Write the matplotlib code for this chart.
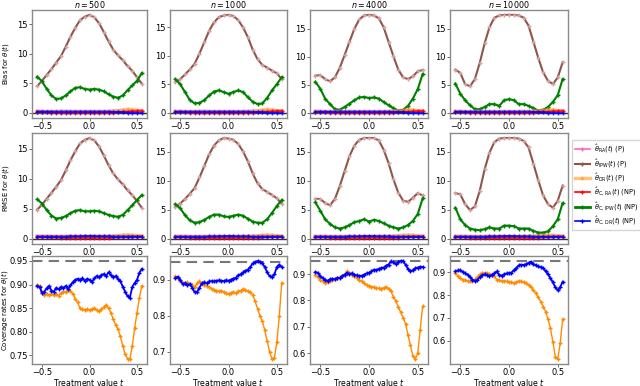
import matplotlib
matplotlib.use("Agg")
import matplotlib.pyplot as plt
from matplotlib.lines import Line2D

# sample sizes (one column each)
n_values = [500, 1000, 4000, 10000]

# treatment grid for bias / rmse rows
t_grid = [-0.55, -0.5, -0.45, -0.4, -0.35, -0.3, -0.25, -0.2, -0.15, -0.1, -0.05, 0.0,
          0.05, 0.1, 0.15, 0.2, 0.25, 0.3, 0.35, 0.4, 0.45, 0.5, 0.55]

# finer grid for coverage row
t_cov = [-0.55, -0.525, -0.5, -0.475, -0.45, -0.425, -0.4, -0.375, -0.35, -0.325, -0.3,
         -0.275, -0.25, -0.225, -0.2, -0.175, -0.15, -0.125, -0.1, -0.075, -0.05, -0.025,
         0.0, 0.025, 0.05, 0.075, 0.1, 0.125, 0.15, 0.175, 0.2, 0.225, 0.25, 0.275, 0.3,
         0.325, 0.35, 0.375, 0.4, 0.425, 0.45, 0.475, 0.5, 0.525, 0.55]

# ---- Bias row ----
bias_ipw = [
    [4.5, 5.4, 6.4, 7.4, 8.5, 9.6, 11.2, 12.9, 14.4, 15.7, 16.3, 16.6, 16.2, 15.2, 13.7, 12.1, 10.7, 9.7, 8.9, 7.9, 7.1, 6.0, 4.9],
    [5.3, 5.9, 6.7, 7.6, 8.6, 10.4, 12.4, 14.4, 15.9, 16.8, 17.1, 17.2, 17.0, 16.3, 15.0, 13.3, 11.1, 9.4, 8.4, 7.9, 7.4, 6.9, 5.9],
    [6.6, 6.7, 6.0, 5.6, 6.3, 8.0, 10.3, 12.7, 15.0, 16.7, 17.4, 17.5, 17.4, 16.9, 15.3, 12.7, 10.1, 7.7, 6.3, 6.0, 6.5, 7.4, 7.6],
    [7.7, 7.1, 5.1, 4.7, 6.0, 8.9, 12.4, 15.3, 17.0, 17.4, 17.5, 17.5, 17.5, 17.4, 17.0, 15.6, 12.7, 9.8, 7.2, 5.7, 5.1, 6.3, 9.0],
]
bias_cipw = [
    [6.1, 5.3, 4.0, 2.9, 2.3, 2.4, 2.9, 3.6, 4.2, 4.3, 4.0, 3.9, 4.0, 3.9, 3.6, 3.1, 2.7, 2.5, 2.9, 3.8, 4.6, 5.4, 6.7],
    [5.9, 5.0, 3.6, 2.2, 1.6, 1.7, 2.2, 3.0, 3.7, 3.9, 3.6, 3.3, 3.6, 3.9, 3.6, 2.7, 1.9, 1.5, 1.6, 2.6, 3.9, 5.0, 6.2],
    [5.5, 4.3, 2.5, 1.5, 0.6, 0.5, 1.0, 1.6, 2.2, 2.7, 2.8, 2.6, 2.7, 2.5, 1.9, 1.3, 0.8, 0.35, 0.5, 1.2, 2.5, 4.2, 6.9],
    [5.2, 3.4, 2.2, 1.3, 0.6, 0.6, 1.0, 1.5, 1.5, 1.2, 2.2, 2.4, 2.2, 1.5, 1.5, 1.2, 0.8, 0.35, 0.5, 1.0, 1.9, 3.1, 6.0],
]
bias_ra = [0.25, 0.25, 0.2, 0.2, 0.2, 0.25, 0.25, 0.2, 0.2, 0.2, 0.2, 0.2,
           0.2, 0.2, 0.2, 0.25, 0.25, 0.3, 0.3, 0.3, 0.3, 0.3, 0.3]
bias_dr = [0.1, 0.1, 0.1, 0.1, 0.1, 0.1, 0.1, 0.1, 0.1, 0.1, 0.1, 0.1,
           0.1, 0.1, 0.15, 0.15, 0.2, 0.3, 0.45, 0.55, 0.5, 0.35, 0.2]
bias_cra = [0.1, 0.1, 0.05, 0.0, -0.05, -0.1, -0.1, -0.1, -0.1, -0.1, -0.1, -0.1,
            -0.1, -0.1, -0.1, -0.05, 0.0, 0.05, 0.1, 0.15, 0.2, 0.25, 0.3]
bias_cdr = [0.15, 0.15, 0.15, 0.15, 0.15, 0.15, 0.15, 0.15, 0.15, 0.15, 0.15, 0.15,
            0.15, 0.15, 0.15, 0.15, 0.1, 0.1, 0.05, 0.0, -0.05, -0.1, -0.1]

# ---- RMSE row ----
rmse_ipw = [
    [4.9, 5.7, 6.7, 7.7, 8.7, 9.8, 11.4, 13.1, 14.6, 15.9, 16.5, 16.8, 16.4, 15.4, 13.9, 12.3, 10.9, 9.9, 9.1, 8.1, 7.3, 6.3, 5.2],
    [5.5, 6.1, 6.9, 7.8, 8.8, 10.6, 12.6, 14.6, 16.1, 17.0, 17.4, 17.3, 17.1, 16.4, 15.1, 13.4, 11.3, 9.6, 8.6, 8.1, 7.6, 7.0, 6.1],
    [6.9, 6.9, 6.2, 5.8, 6.9, 9.1, 11.7, 14.3, 16.1, 17.1, 17.4, 17.4, 17.4, 17.0, 15.4, 13.1, 10.3, 8.0, 6.6, 6.4, 7.1, 7.9, 7.5],
    [7.9, 7.7, 6.0, 5.0, 5.6, 8.3, 12.0, 14.9, 16.7, 17.3, 17.4, 17.4, 17.4, 17.3, 16.9, 15.8, 13.0, 10.1, 7.5, 6.0, 5.4, 6.6, 9.2],
]
rmse_cipw = [
    [6.6, 5.9, 4.8, 3.9, 3.4, 3.5, 3.8, 4.3, 4.7, 4.8, 4.6, 4.6, 4.7, 4.6, 4.3, 4.0, 3.8, 3.7, 4.0, 4.8, 5.6, 6.5, 7.3],
    [6.0, 5.3, 4.1, 3.2, 2.8, 2.9, 3.3, 3.8, 4.2, 4.2, 3.9, 3.8, 4.0, 4.2, 4.0, 3.5, 3.0, 2.8, 2.8, 3.4, 4.5, 5.7, 6.7],
    [6.3, 4.9, 3.4, 2.6, 2.0, 1.8, 2.0, 2.4, 2.9, 3.1, 3.4, 3.0, 3.3, 3.1, 2.7, 2.3, 2.0, 1.8, 2.0, 2.4, 3.1, 4.3, 7.0],
    [5.4, 3.4, 2.4, 1.8, 1.6, 1.5, 1.7, 2.0, 1.8, 1.8, 2.3, 2.3, 2.2, 1.8, 1.8, 1.8, 1.4, 1.1, 1.1, 1.3, 2.2, 3.4, 6.2],
]
rmse_ra = [0.5, 0.5, 0.5, 0.45, 0.45, 0.45, 0.45, 0.45, 0.45, 0.45, 0.45, 0.45,
           0.45, 0.45, 0.45, 0.45, 0.45, 0.5, 0.5, 0.5, 0.5, 0.5, 0.5]
rmse_dr = [0.4, 0.4, 0.4, 0.4, 0.4, 0.4, 0.4, 0.4, 0.4, 0.4, 0.4, 0.4,
           0.4, 0.4, 0.45, 0.45, 0.5, 0.55, 0.65, 0.7, 0.65, 0.55, 0.45]
rmse_cra = [0.3, 0.3, 0.3, 0.25, 0.25, 0.2, 0.2, 0.2, 0.2, 0.2, 0.2, 0.2,
            0.2, 0.2, 0.2, 0.2, 0.25, 0.25, 0.3, 0.3, 0.35, 0.35, 0.4]
rmse_cdr = [0.4, 0.4, 0.4, 0.4, 0.4, 0.4, 0.4, 0.45, 0.45, 0.45, 0.5, 0.5,
            0.5, 0.45, 0.45, 0.45, 0.4, 0.4, 0.4, 0.4, 0.4, 0.4, 0.4]

# ---- Coverage row ----
cov_dr = [
    [0.900, 0.896, 0.885, 0.878, 0.880, 0.877, 0.879, 0.877, 0.880, 0.876, 0.882, 0.885, 0.884, 0.889, 0.887,
     0.880, 0.870, 0.862, 0.850, 0.848, 0.846, 0.848, 0.846, 0.848, 0.850, 0.845, 0.844, 0.848, 0.852, 0.857,
     0.850, 0.840, 0.826, 0.815, 0.805, 0.790, 0.770, 0.752, 0.743, 0.742, 0.770, 0.808, 0.840, 0.872, 0.897],
    [0.910, 0.905, 0.895, 0.892, 0.890, 0.893, 0.887, 0.885, 0.880, 0.890, 0.895, 0.888, 0.885, 0.882, 0.880,
     0.875, 0.872, 0.870, 0.868, 0.870, 0.866, 0.862, 0.860, 0.864, 0.866, 0.862, 0.868, 0.870, 0.874, 0.872,
     0.868, 0.865, 0.858, 0.840, 0.820, 0.800, 0.785, 0.760, 0.730, 0.700, 0.680, 0.684, 0.727, 0.798, 0.891],
    [0.895, 0.890, 0.878, 0.872, 0.868, 0.870, 0.874, 0.878, 0.881, 0.884, 0.888, 0.893, 0.900, 0.910, 0.905,
     0.898, 0.892, 0.885, 0.878, 0.872, 0.865, 0.858, 0.856, 0.853, 0.851, 0.848, 0.846, 0.845, 0.848, 0.852,
     0.845, 0.835, 0.815, 0.798, 0.775, 0.755, 0.735, 0.712, 0.668, 0.630, 0.590, 0.578, 0.600, 0.690, 0.778],
    [0.895, 0.885, 0.876, 0.868, 0.866, 0.862, 0.860, 0.863, 0.869, 0.880, 0.891, 0.896, 0.898, 0.896, 0.894,
     0.888, 0.882, 0.868, 0.865, 0.862, 0.863, 0.860, 0.858, 0.857, 0.854, 0.857, 0.862, 0.860, 0.856, 0.852,
     0.845, 0.835, 0.822, 0.808, 0.790, 0.772, 0.750, 0.728, 0.695, 0.655, 0.595, 0.530, 0.520, 0.590, 0.695],
]
cov_cdr = [
    [0.897, 0.895, 0.882, 0.885, 0.892, 0.897, 0.887, 0.885, 0.893, 0.890, 0.895, 0.893, 0.897, 0.890, 0.898,
     0.905, 0.910, 0.912, 0.910, 0.913, 0.908, 0.912, 0.910, 0.905, 0.913, 0.918, 0.915, 0.920, 0.922, 0.918,
     0.926, 0.920, 0.915, 0.918, 0.912, 0.908, 0.895, 0.885, 0.875, 0.872, 0.895, 0.903, 0.910, 0.925, 0.933],
    [0.905, 0.908, 0.900, 0.888, 0.890, 0.885, 0.888, 0.878, 0.865, 0.866, 0.878, 0.890, 0.893, 0.890, 0.895,
     0.896, 0.895, 0.897, 0.898, 0.897, 0.896, 0.898, 0.897, 0.900, 0.903, 0.905, 0.912, 0.915, 0.920, 0.925,
     0.928, 0.935, 0.945, 0.948, 0.952, 0.950, 0.945, 0.935, 0.920, 0.910, 0.908, 0.915, 0.935, 0.942, 0.935],
    [0.908, 0.905, 0.892, 0.885, 0.878, 0.875, 0.880, 0.883, 0.880, 0.886, 0.885, 0.893, 0.898, 0.905, 0.900,
     0.903, 0.898, 0.895, 0.892, 0.894, 0.898, 0.903, 0.905, 0.910, 0.917, 0.915, 0.920, 0.923, 0.925, 0.932,
     0.936, 0.948, 0.945, 0.938, 0.945, 0.950, 0.950, 0.935, 0.920, 0.910, 0.915, 0.922, 0.925, 0.928, 0.927],
    [0.904, 0.908, 0.909, 0.903, 0.896, 0.890, 0.880, 0.868, 0.863, 0.866, 0.880, 0.888, 0.891, 0.887, 0.884,
     0.890, 0.896, 0.904, 0.888, 0.886, 0.891, 0.895, 0.896, 0.898, 0.910, 0.919, 0.930, 0.933, 0.932, 0.935,
     0.942, 0.947, 0.937, 0.930, 0.926, 0.922, 0.919, 0.905, 0.891, 0.875, 0.856, 0.835, 0.821, 0.835, 0.859],
]
cov_ticks = [
    [0.75, 0.80, 0.85, 0.90, 0.95],
    [0.7, 0.8, 0.9],
    [0.6, 0.7, 0.8, 0.9],
    [0.6, 0.7, 0.8, 0.9],
]
nominal = 0.95

c_ra = "hotpink"
c_ipw = "#8c564b"
c_dr = "darkorange"
c_cra = "red"
c_cipw = "green"
c_cdr = "blue"

plt.rcParams['font.family'] = ['DejaVu Sans']

fig = plt.figure(figsize=(6.4, 3.86), dpi=100)
W, H = 640.0, 386.0
col_px = [(32, 147), (170, 287), (310, 428), (450, 568)]
row_px = [(10, 118), (133, 244), (256, 364)]


def make_ax(r, c):
    x0, x1 = col_px[c]
    y0, y1 = row_px[r]
    ax = fig.add_axes([x0 / W, 1 - y1 / H, (x1 - x0) / W, (y1 - y0) / H])
    for s in ax.spines.values():
        s.set_color("#8a8a8a")
        s.set_linewidth(1.0)
    ax.tick_params(labelsize=6, length=2.0, width=0.6, pad=1.0, color="#555555")
    ax.set_xticks([-0.5, 0.0, 0.5])
    return ax


def put_ylabel(ax, text, x_px):
    # rotated label grows leftwards from the anchor
    ax.set_ylabel(text, fontsize=5.0)
    ax.yaxis.set_label_coords((x_px - 32) / 115.0, 0.5)


def small_lines(ax, ra, dr, cra, cdr):
    ax.plot(t_grid, ra, color=c_ra, marker="+", ms=3, lw=2.5, alpha=0.45)
    ax.plot(t_grid, dr, color=c_dr, marker="+", ms=3, lw=2.5, alpha=0.45)
    ax.plot(t_grid, cra, color=c_cra, marker="+", ms=3, lw=1.5, alpha=0.8)
    ax.plot(t_grid, cdr, color=c_cdr, marker="+", ms=3, lw=1.5, alpha=0.8)


for c, n in enumerate(n_values):
    # bias
    ax = make_ax(0, c)
    ax.axhline(0, color="#333333", lw=1.0)
    ax.plot(t_grid, bias_ipw[c], color=c_ipw, marker="+", ms=3, mec="#d9a0a0", lw=1.5)
    ax.plot(t_grid, bias_cipw[c], color=c_cipw, marker="+", ms=3, lw=1.5)
    small_lines(ax, bias_ra, bias_dr, bias_cra, bias_cdr)
    ax.set_title(r"$n = %d$" % n, fontsize=5.8, pad=0)
    ax.set_yticks([0, 5, 10, 15])
    if c == 0:
        put_ylabel(ax, r"Bias for $\theta(t)$", 11)

    # rmse
    ax = make_ax(1, c)
    ax.axhline(0, color="#333333", lw=1.0)
    ax.plot(t_grid, rmse_ipw[c], color=c_ipw, marker="+", ms=3, mec="#d9a0a0", lw=1.5)
    ax.plot(t_grid, rmse_cipw[c], color=c_cipw, marker="+", ms=3, lw=1.5)
    small_lines(ax, rmse_ra, rmse_dr, rmse_cra, rmse_cdr)
    ax.set_yticks([0, 5, 10, 15])
    if c == 0:
        put_ylabel(ax, r"RMSE for $\theta(t)$", 11)

    # coverage
    ax = make_ax(2, c)
    ax.axhline(nominal, color="#777777", lw=1.5, ls=(0, (5, 3)))
    ax.plot(t_cov, cov_dr[c], color=c_dr, marker="+", ms=3, lw=1.0)
    ax.plot(t_cov, cov_cdr[c], color=c_cdr, marker="+", ms=3, lw=1.3)
    ax.set_yticks(cov_ticks[c])
    ax.set_xlabel(r"Treatment value $t$", fontsize=5.6)
    ax.xaxis.set_label_coords(0.5, (364 - 376.5) / 108.0)
    if c == 0:
        put_ylabel(ax, r"Coverage rates for $\theta(t)$", 10)

handles = [
    Line2D([], [], color=c_ra, marker="+", ms=3, lw=1.2),
    Line2D([], [], color=c_ipw, marker="+", ms=3, lw=1.5),
    Line2D([], [], color=c_dr, marker="+", ms=3, lw=2.5, alpha=0.5),
    Line2D([], [], color=c_cra, marker="+", ms=3, lw=1.2),
    Line2D([], [], color=c_cipw, marker="+", ms=3, lw=2.0),
    Line2D([], [], color=c_cdr, marker="+", ms=3, lw=1.2),
]
labels = [
    r"$\hat{\theta}_{\rm RA}(t)$ (P)",
    r"$\hat{\theta}_{\rm IPW}(t)$ (P)",
    r"$\hat{\theta}_{\rm DR}(t)$ (P)",
    r"$\hat{\theta}_{\rm C,\,RA}(t)$ (NP)",
    r"$\hat{\theta}_{\rm C,\,IPW}(t)$ (NP)",
    r"$\hat{\theta}_{\rm C,\,DR}(t)$ (NP)",
]
fig.legend(handles, labels, loc="center left", bbox_to_anchor=(569 / W, 1 - 185 / H),
           fontsize=4.8, frameon=True, handlelength=2.2, labelspacing=0.3,
           borderpad=0.4, handletextpad=0.6, fancybox=False, edgecolor="#cccccc")

fig.savefig("out.png", dpi=100)
